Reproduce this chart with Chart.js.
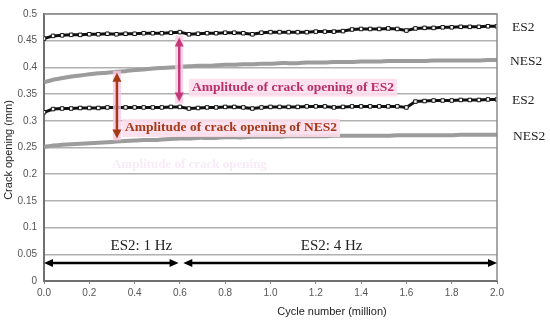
<!DOCTYPE html>
<html>
<head>
<meta charset="utf-8">
<script src="https://cdn.jsdelivr.net/npm/chart.js@4/dist/chart.umd.min.js"></script>
<style>
  html, body { margin: 0; padding: 0; background: #fff; }
  #wrap { width: 550px; height: 322px; position: relative; }
</style>
</head>
<body>
<div id="wrap"><canvas id="crackChart"></canvas></div>
<script>
// cycle number (million)
const cycles = [0, 0.04, 0.08, 0.12, 0.16, 0.2, 0.24, 0.28, 0.32, 0.36, 0.4, 0.44, 0.48, 0.52, 0.56, 0.6,
  0.64, 0.68, 0.72, 0.76, 0.8, 0.84, 0.88, 0.92, 0.96, 1.0, 1.04, 1.08, 1.12, 1.16, 1.2,
  1.24, 1.28, 1.32, 1.36, 1.4, 1.44, 1.48, 1.52, 1.56, 1.6, 1.64, 1.68, 1.72, 1.76, 1.8,
  1.84, 1.88, 1.92, 1.96, 2.0];

// crack opening (mm)
const es2Upper = [0.454, 0.459, 0.460, 0.461, 0.461, 0.462, 0.462, 0.463, 0.462, 0.463, 0.463, 0.464, 0.464, 0.464, 0.465, 0.466,
  0.462, 0.463, 0.464, 0.464, 0.465, 0.465, 0.464, 0.462, 0.465, 0.466, 0.466, 0.466, 0.466, 0.466, 0.467,
  0.467, 0.467, 0.468, 0.471, 0.472, 0.472, 0.472, 0.473, 0.472, 0.469, 0.473, 0.474, 0.474, 0.475, 0.475,
  0.476, 0.476, 0.476, 0.477, 0.477];
const nes2Upper = [0.372, 0.377, 0.380, 0.383, 0.385, 0.387, 0.389, 0.390, 0.392, 0.393, 0.395, 0.396, 0.398, 0.399, 0.400, 0.401,
  0.402, 0.403, 0.403, 0.404, 0.405, 0.405, 0.406, 0.406, 0.407, 0.407, 0.408, 0.408, 0.408, 0.409, 0.409,
  0.409, 0.410, 0.410, 0.410, 0.411, 0.411, 0.411, 0.412, 0.412, 0.412, 0.412, 0.412, 0.413, 0.413, 0.413,
  0.413, 0.413, 0.413, 0.414, 0.414];
const es2Lower = [0.316, 0.322, 0.323, 0.323, 0.324, 0.324, 0.324, 0.325, 0.325, 0.325, 0.325, 0.325, 0.325, 0.325, 0.326, 0.326,
  0.323, 0.324, 0.325, 0.325, 0.326, 0.326, 0.325, 0.323, 0.325, 0.326, 0.326, 0.326, 0.326, 0.327, 0.327,
  0.327, 0.325, 0.326, 0.327, 0.327, 0.327, 0.327, 0.327, 0.327, 0.325, 0.336, 0.337, 0.338, 0.338, 0.338,
  0.339, 0.339, 0.339, 0.340, 0.340];
const nes2Lower = [0.251, 0.254, 0.255, 0.256, 0.257, 0.258, 0.259, 0.260, 0.261, 0.262, 0.263, 0.264, 0.264, 0.265, 0.266, 0.267,
  0.267, 0.268, 0.268, 0.268, 0.269, 0.269, 0.269, 0.270, 0.270, 0.270, 0.270, 0.271, 0.271, 0.271, 0.271,
  0.271, 0.272, 0.272, 0.272, 0.272, 0.272, 0.272, 0.272, 0.273, 0.273, 0.273, 0.273, 0.273, 0.273, 0.273,
  0.274, 0.274, 0.274, 0.274, 0.274];

const seriesNames = ["ES2", "NES2", "ES2", "NES2"];
const yTickLabels = ["0", "0.05", "0.1", "0.15", "0.2", "0.25", "0.3", "0.35", "0.4", "0.45", "0.5"];
const xTickLabels = ["0.0", "0.2", "0.4", "0.6", "0.8", "1.0", "1.2", "1.4", "1.6", "1.8", "2.0"];
const freqLabels = ["ES2: 1 Hz", "ES2: 4 Hz"];
const amplitudeLabels = ["Amplitude of crack opening of ES2", "Amplitude of crack opening of NES2"];

const SERIF = "'Liberation Serif', 'Times New Roman', serif";
const SANS = "'Liberation Sans', Arial, sans-serif";

function toPoints(values) {
  return values.map((v, i) => ({ x: cycles[i], y: v }));
}

const es2Style = {
  borderColor: "#111",
  borderWidth: 3,
  pointStyle: "rect",
  pointRadius: 2.5,
  pointBorderWidth: 1,
  pointBackgroundColor: "#fff",
  pointBorderColor: "#111",
  tension: 0,
};
const nes2Style = {
  borderColor: "#9c9c9c",
  borderWidth: 4,
  pointRadius: 0,
  tension: 0.2,
};

function arrowHead(ctx, x, y, dir, len, half) {
  ctx.beginPath();
  if (dir === "up") { ctx.moveTo(x, y); ctx.lineTo(x - half, y + len); ctx.lineTo(x + half, y + len); }
  if (dir === "down") { ctx.moveTo(x, y); ctx.lineTo(x - half, y - len); ctx.lineTo(x + half, y - len); }
  if (dir === "left") { ctx.moveTo(x, y); ctx.lineTo(x + len, y - half); ctx.lineTo(x + len, y + half); }
  if (dir === "right") { ctx.moveTo(x, y); ctx.lineTo(x - len, y - half); ctx.lineTo(x - len, y + half); }
  ctx.closePath();
  ctx.fill();
}

function vArrow(ctx, x, y1, y2, color) {
  // pale glow behind
  ctx.fillStyle = "rgba(250, 200, 228, 0.8)";
  ctx.fillRect(x - 4, y1 - 2, 8, y2 - y1 + 4);
  ctx.strokeStyle = color;
  ctx.fillStyle = color;
  ctx.lineWidth = 2.5;
  ctx.beginPath();
  ctx.moveTo(x, y1 + 6);
  ctx.lineTo(x, y2 - 6);
  ctx.stroke();
  arrowHead(ctx, x, y1, "up", 9, 4.5);
  arrowHead(ctx, x, y2, "down", 9, 4.5);
}

function hArrow(ctx, x1, x2, y) {
  ctx.strokeStyle = "#000";
  ctx.fillStyle = "#000";
  ctx.lineWidth = 2.5;
  ctx.beginPath();
  ctx.moveTo(x1 + 6, y);
  ctx.lineTo(x2 - 6, y);
  ctx.stroke();
  arrowHead(ctx, x1, y, "left", 9, 4);
  arrowHead(ctx, x2, y, "right", 9, 4);
}

function highlightText(ctx, text, x, y, color) {
  ctx.font = "bold 13.5px " + SERIF;
  const w = ctx.measureText(text).width;
  ctx.fillStyle = "rgba(253, 222, 236, 0.9)";
  ctx.fillRect(x - 3, y - 9, w + 6, 18);
  ctx.fillStyle = color;
  ctx.textAlign = "left";
  ctx.textBaseline = "middle";
  ctx.fillText(text, x, y);
}

const annotationPlugin = {
  id: "annotations",
  beforeDatasetsDraw(chart) {
    const { ctx } = chart;
    const xs = chart.scales.x, ys = chart.scales.y;
    ctx.save();
    // faint ghost text left in the original figure
    ctx.font = "bold 13px " + SERIF;
    ctx.fillStyle = "rgba(244, 222, 244, 0.6)";
    ctx.textBaseline = "middle";
    ctx.fillText("Amplitude of crack opening", xs.getPixelForValue(0.3), ys.getPixelForValue(0.218));
    ctx.restore();
  },
  afterDatasetsDraw(chart) {
    const { ctx, chartArea: a } = chart;
    const xs = chart.scales.x, ys = chart.scales.y;
    ctx.save();

    // plot frame
    ctx.strokeStyle = "#8a8a8a";
    ctx.lineWidth = 1.5;
    ctx.beginPath();
    ctx.moveTo(a.left, a.top);
    ctx.lineTo(a.right, a.top);
    ctx.lineTo(a.right, a.bottom);
    ctx.stroke();

    // amplitude arrows
    vArrow(ctx, xs.getPixelForValue(0.597), ys.getPixelForValue(0.456), ys.getPixelForValue(0.336), "#c23a78");
    vArrow(ctx, xs.getPixelForValue(0.322), ys.getPixelForValue(0.390), ys.getPixelForValue(0.267), "#a33a14");

    highlightText(ctx, amplitudeLabels[0], xs.getPixelForValue(0.653), ys.getPixelForValue(0.362), "#b8306a");
    highlightText(ctx, amplitudeLabels[1], xs.getPixelForValue(0.358), ys.getPixelForValue(0.2865), "#a33a1a");

    // frequency arrows
    const yArr = ys.getPixelForValue(0.0335);
    hArrow(ctx, xs.getPixelForValue(0.0), xs.getPixelForValue(0.594), yArr);
    hArrow(ctx, xs.getPixelForValue(0.615), xs.getPixelForValue(2.0), yArr);
    ctx.fillStyle = "#222";
    ctx.font = "15px " + SERIF;
    ctx.textAlign = "center";
    ctx.textBaseline = "middle";
    ctx.fillText(freqLabels[0], xs.getPixelForValue(0.43), ys.getPixelForValue(0.066));
    ctx.fillText(freqLabels[1], xs.getPixelForValue(1.27), ys.getPixelForValue(0.066));

    // series names on the right
    ctx.font = "13.5px " + SERIF;
    ctx.textAlign = "left";
    const ends = [es2Upper, nes2Upper, es2Lower, nes2Lower];
    const offs = [15, 13, 15, 16];
    ends.forEach((arr, i) => {
      ctx.fillText(seriesNames[i], a.right + offs[i], ys.getPixelForValue(arr[arr.length - 1]) + 1.5);
    });

    // axis titles
    ctx.fillStyle = "#222";
    ctx.font = "11px " + SANS;
    ctx.textAlign = "center";
    ctx.fillText("Cycle number (million)", 332, 312);
    ctx.translate(9, 150);
    ctx.rotate(-Math.PI / 2);
    ctx.fillText("Crack opening (mm)", 0, 0);
    ctx.restore();
  },
};

new Chart(document.getElementById("crackChart"), {
  type: "line",
  data: {
    datasets: [
      { label: "ES2", data: toPoints(es2Upper), ...es2Style },
      { label: "NES2", data: toPoints(nes2Upper), ...nes2Style },
      { label: "ES2", data: toPoints(es2Lower), ...es2Style },
      { label: "NES2", data: toPoints(nes2Lower), ...nes2Style },
    ],
  },
  options: {
    responsive: true,
    maintainAspectRatio: false,
    animation: false,
    layout: { padding: { left: 0, right: 53, top: 14, bottom: 0 } },
    plugins: { legend: { display: false }, tooltip: { enabled: false } },
    scales: {
      x: {
        type: "linear",
        min: 0,
        max: 2,
        afterFit(scale) { scale.height = 41; },
        afterBuildTicks(scale) {
          scale.ticks = xTickLabels.map((t) => ({ value: parseFloat(t) }));
        },
        ticks: {
          callback: (v, i) => xTickLabels[i],
          color: "#555",
          font: { size: 10, family: SANS },
          padding: 3,
          maxRotation: 0,
        },
        grid: { drawOnChartArea: false, drawTicks: true, tickLength: 3, color: "#888" },
        border: { display: true, color: "#707070", width: 2 },
      },
      y: {
        min: 0,
        max: 0.5,
        afterFit(scale) { scale.width = 44; },
        afterBuildTicks(scale) {
          scale.ticks = yTickLabels.map((t) => ({ value: parseFloat(t) }));
        },
        ticks: {
          callback: (v, i) => yTickLabels[i],
          color: "#555",
          font: { size: 10, family: SANS },
          padding: 7,
        },
        grid: { color: "#b0b0b0", lineWidth: 1.5, drawTicks: false },
        border: { display: true, color: "#707070", width: 2 },
      },
    },
  },
  plugins: [annotationPlugin],
});
</script>
</body>
</html>
